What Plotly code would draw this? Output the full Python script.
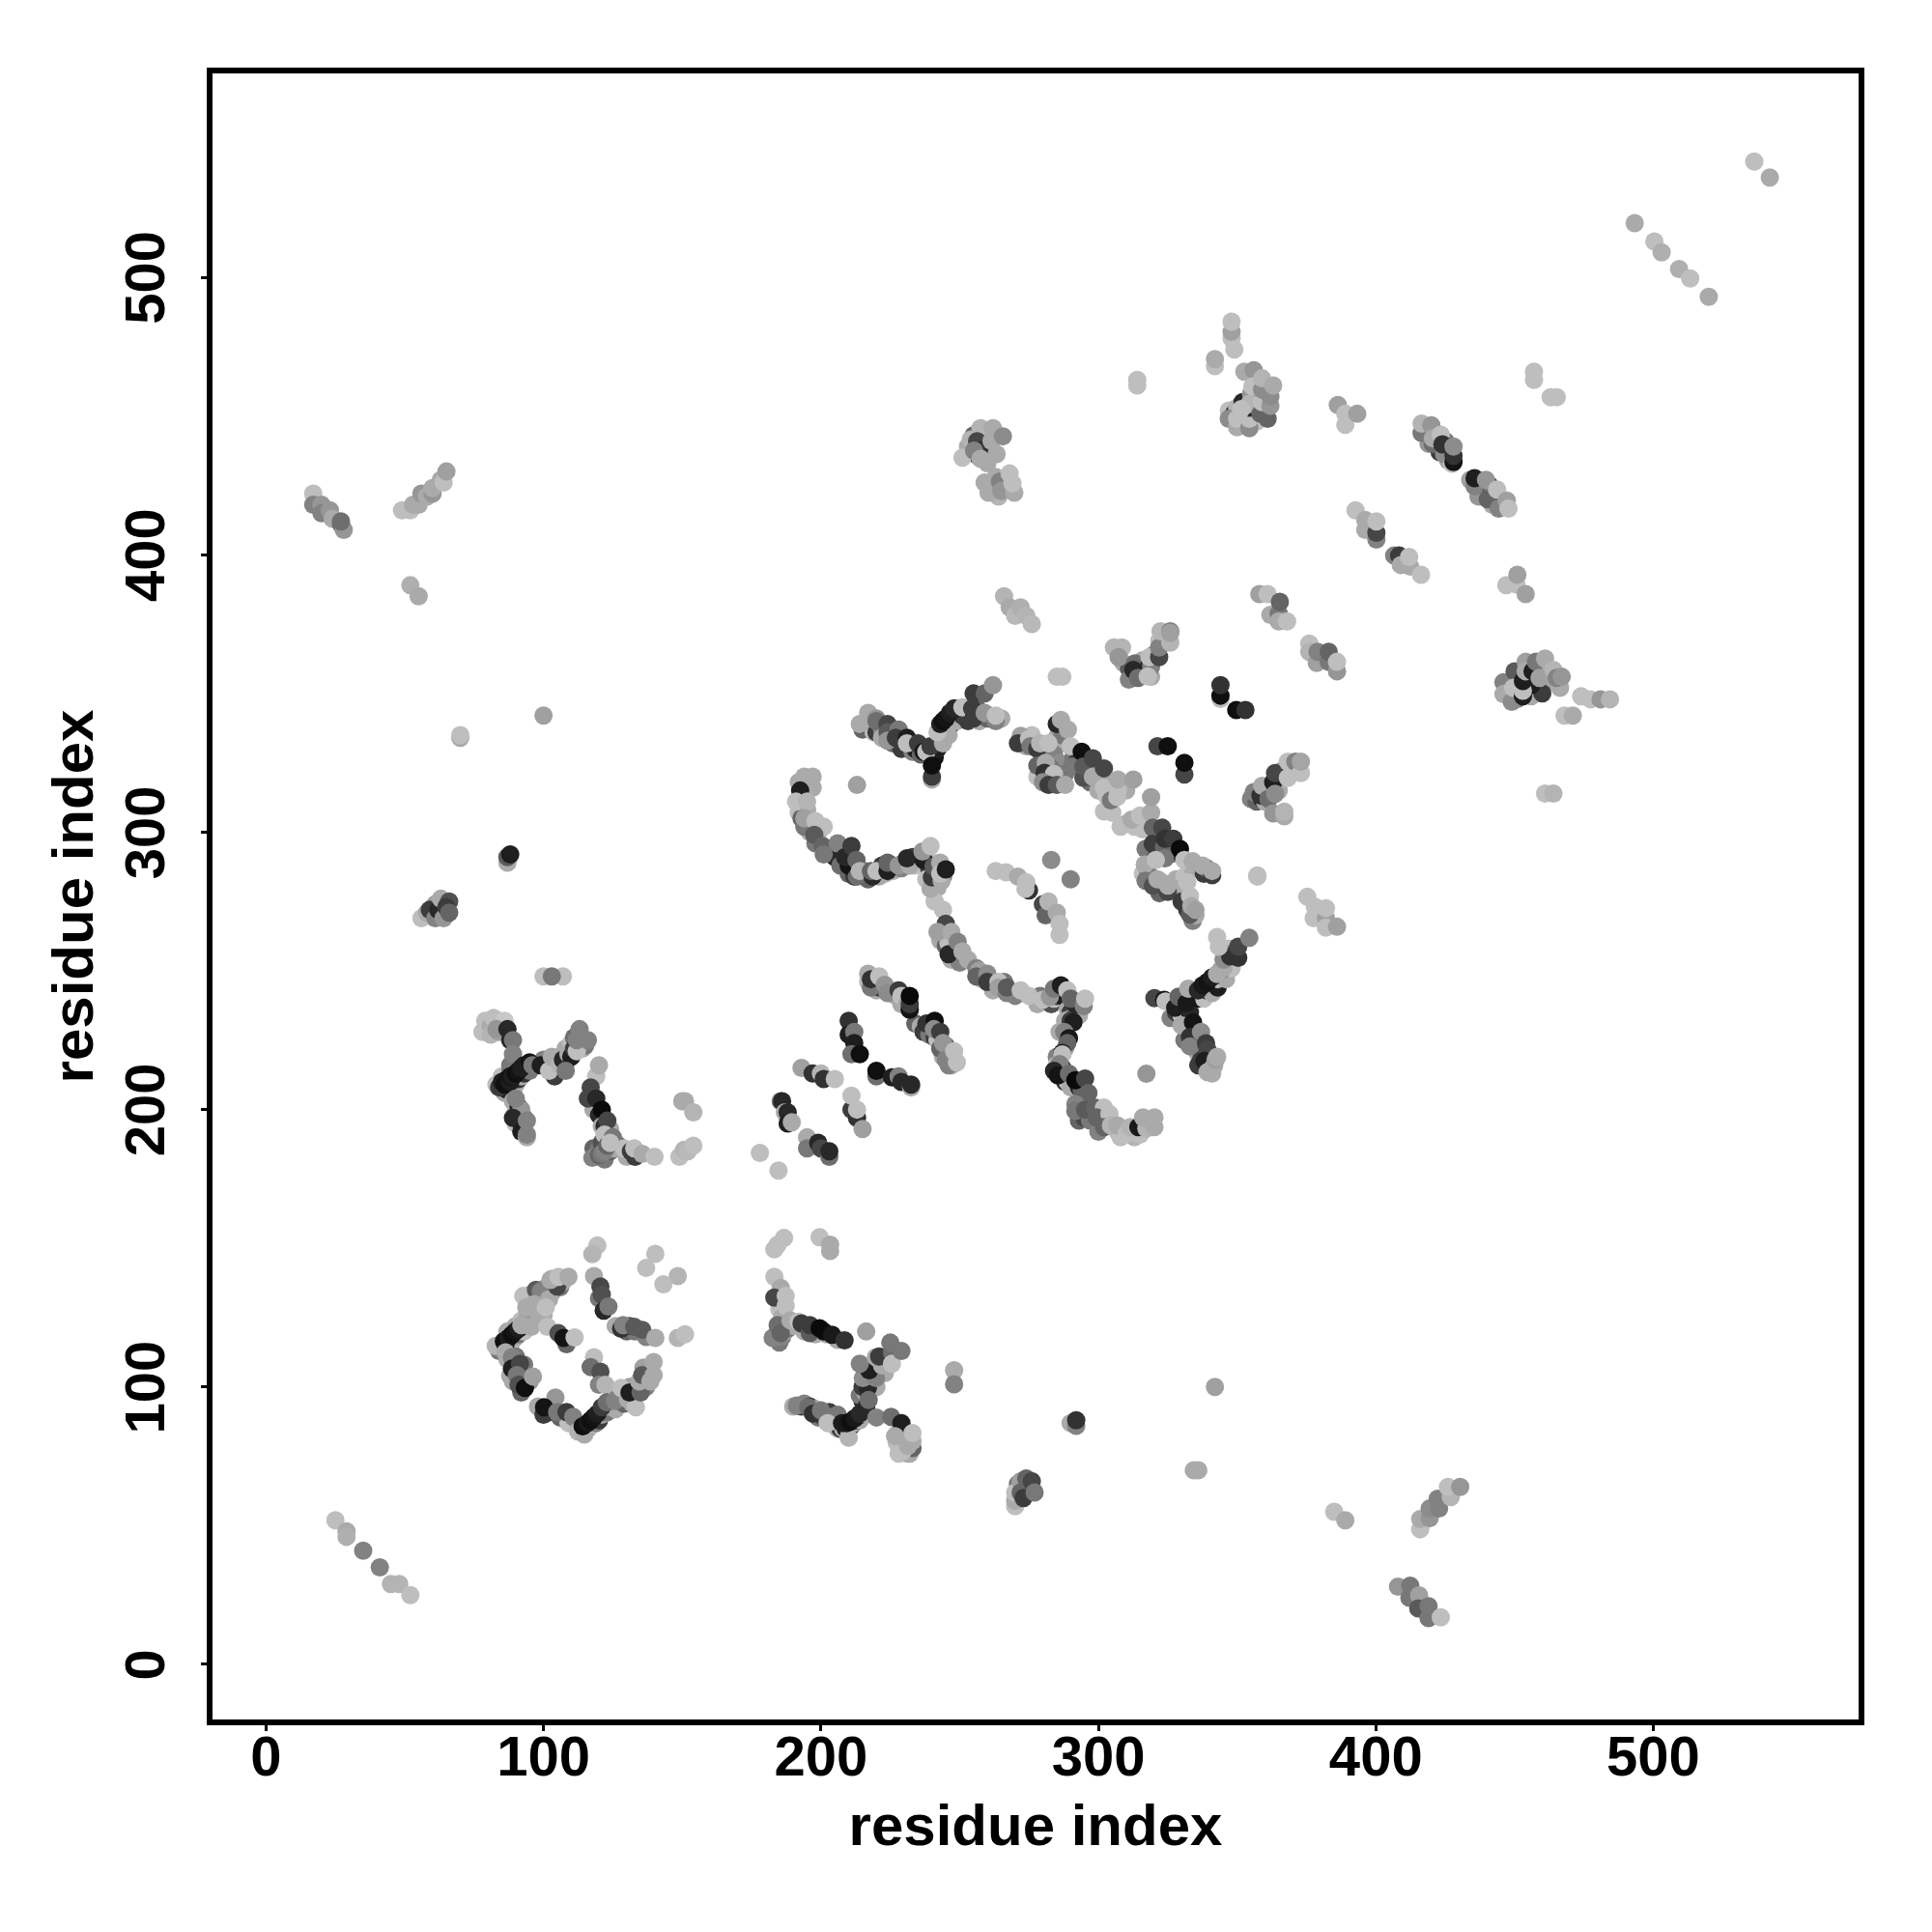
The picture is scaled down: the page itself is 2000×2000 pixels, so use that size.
import plotly.graph_objects as go

# Every point: (residue index i, residue index j, shade score 0=black .. 255=white)
under_box_left = [(84,113,120),(85,115,190),(86,114,150),(87,115,170),(88,115,150),(89,117,190),(90,118,170),(91,119,120),(93,120,190),(94,122,170),(88,119,190),(87,120,170),(90,122,170),(92,124,190),
                  (94,125,170),(95,127,150),(96,131,170),(98,132,120),(99,130,170),(100,133,150),(101,136,170),(103,134,170),(103,137,130),(106,136,120),(107,138,170),(100,126,170),(103,139,190),(95,133,150),
                  (87,110,170),(89,108,130),(90,111,120),(88,104,170),(92,104,100),(89,102,170),(92,98,100),(95,102,150),(93,108,120),
                  (112,87,170),(113,85,100),(114,84,190),(115,84,60),(116,85,120),(117,86,190),(119,87,130),(120,88,60),(121,90,160),(123,91,120),(124,93,190),(126,92,170),(127,97,130),(129,94,100),(131,100,160),(132,94,170),(135,100,170),(136,107,160),(137,100,130),(102,91,70),(106,89,100),(109,87,190),(98,93,170),(100,90,60),
                  (126,122,170),(130,120,100),(133,120,120),(137,118,130),(131,122,70)]
under_box_right = [(206,85,180),(207,85,60),(208,85,170),(209,85,30),(210,85,190),(211,86,60),(212,87,170),(213,88,30),(214,88,170),(215,90,30),(216,90,170),(215,95,40),(214,97,120),(216,98,170),(215,100,60),(218,100,70),(220,100,170),(218,104,40),(221,105,120),(219,108,60),(223,105,170),(223,110,130),
                   (190,93,170),(193,93,60),(194,94,130),(196,93,60),(198,92,170),(199,89,120),(201,89,60),(203,91,60),(205,88,170),(206,90,120),
                   (184,119,110),(185,116,120),(186,118,130),(187,120,170),(188,121,120),(186,122,160),(190,122,170),(194,120,170),(198,119,170),(202,119,170),(201,120,15),(206,117,170),(185,128,190),(186,125,170),
                   (228,84,190),(229,82,100),(230,79,170),(231,76,190),(228,76,190),(232,76,170),(233,78,100)]
under_upper_left = [(85,212,190),(86,206,170),(87,207,40),(88,214,130),(89,208,100),(90,209,170),(91,211,50),(92,212,170),(93,213,50),(95,214,120),(89,203,170),(90,199,170),(91,201,40),(90,195,190),(92,195,60),(93,197,100),(88,216,120),
                    (100,218,130),(102,216,60),(104,217,170),(105,214,50),(106,219,120),(107,215,170),(108,217,40),(108,222,170),(110,224,190),(111,226,110),(113,224,60),(114,222,170),(115,223,120),(113,226,170),
                    (119,212,190),(118,200,170),(120,198,40),(121,194,170),(122,194,40),(124,193,170),(118,186,100),(120,186,120),(122,182,120),(124,185,100),(126,188,190),(127,187,100),(125,186,170),(121,188,80),(130,183,170),(133,183,60),
                    (60,270,120),(61,274,160),(63,273,190),(63,270,100),(65,271,170)]
under_center_low = [(217,246,190),(219,245,60),(220,243,170),(221,244,60),(225,242,130),(227,241,170),(229,238,170),(234,231,100),(236,230,170),(237,228,60),(239,227,120),(241,226,60),(242,225,190),(245,223,100),(247,216,170),(246,216,130),(244,219,170),
                    (243,261,170),(245,259,100),(246,260,190),(247,254,170),(249,256,40),(250,253,130),(253,254,170),(256,251,130),(258,247,170),(262,243,170),(266,246,120),(270,241,130),(278,238,170),(279,241,120),(283,238,80),(284,240,190),(285,241,60),(287,241,30),(289,236,170),(290,235,60),(293,234,170),(290,233,120),
                    (288,232,170),(290,232,60),(286,228,170),(288,222,170),(285,219,130),(285,216,190),(287,215,60),(286,213,190),(288,210,60),(289,210,190),(290,208,170),(293,208,40),(294,207,100),(293,196,100),(295,197,70),(297,196,120),(301,196,100),(300,192,130),(307,192,180),(308,190,190),(313,190,180),(315,191,190),(318,194,170),
                    (326,233,130),(328,235,60),(329,236,15),(330,234,190),(332,241,60),(333,235,40),(334,240,170),(336,240,20),(338,240,190),(339,243,30),(341,242,170),(343,244,30),(343,247,190),(345,249,60),(346,247,170),(348,251,190),(344,250,130),(347,258,190),(346,256,120),
                    (331,225,120),(333,230,60),(335,227,170),(336,224,60),(336,220,170),(337,218,60),(336,216,60),(340,216,60),(341,213,170)]
under_center_high = [(215,337,100),(216,339,40),(218,339,130),(219,336,190),(220,336,60),(222,337,130),(222,334,170),(226,332,100),(229,330,60),(233,329,130),(234,330,30),(236,328,100),(240,327,150),(241,327,20),(242,330,30),(243,333,15),(244,335,20),(245,337,15),(246,338,20),(247,339,30),(248,341,20),(246,335,170),(249,340,170),(251,342,60),(252,343,100),(253,340,60),(256,345,100),(257,340,170),(260,341,100),(265,341,170),(250,343,60),
                     (192,318,170),(193,311,170),(192,307,190),(195,308,170),(193,305,100),(196,300,170),(199,300,170),(198,296,120),(203,294,180),(202,293,130),(205,291,40),(207,288,110),(210,285,100),(212,284,60),(215,284,190),(216,286,130),(217,283,100),(221,284,170),(222,288,60),(223,285,170),(226,288,60),(226,286,170),(229,287,130),(230,289,40),(234,288,190),(233,291,60),(235,290,170),(238,292,190),(239,287,60),(241,285,170),(240,281,70),(238,283,190),(242,280,170),(244,284,120),
                     (274,331,170),(276,335,190),(280,329,190),(283,329,190),(285,334,170),(287,332,170),(284,328,130),(286,325,140),(283,323,120),(278,320,190),(288,321,120),(287,335,120),(291,327,120),(292,325,60),(296,325,150),(295,321,60),(297,318,110),(299,323,130),(300,319,100),(300,315,170),(304,318,170),(304,310,170),(305,307,190),(303,313,190),(310,315,170),
                     (310,303,170),(313,302,190),(316,301,190),(317,304,190),(317,294,120),(321,298,60),(322,297,30),(321,293,90),(325,295,100),(326,292,120),(328,293,40),(316,285,190),(318,285,120),(322,278,100),(323,282,190),(328,283,170),(331,278,60),(331,284,190),(332,272,60),(334,268,130),(335,270,170),(330,280,170),(334,287,170),(338,285,60),(339,287,120)]
under_upper_right = [(347,452,190),(349,451,40),(350,453,180),(352,448,190),(352,455,40),(353,451,60),(356,452,150),(356,456,40),(357,448,190),(355,458,150),(357,451,30),(360,452,170),(361,449,100),(361,461,150),
                     (447,352,100),(448,349,60),(450,350,170),(451,353,40),(451,348,120),(452,356,170),(455,352,20),(455,355,170),(456,349,170),(458,352,150),(458,358,170),(461,358,170),(462,354,160),(452,358,90),(460,350,60),(456,353,30),
                     (418,445,100),(419,440,150),(422,441,170),(423,437,60),(425,441,120),(426,434,170),(437,424,60),(438,425,170),(437,421,150),(441,425,60),(442,422,130),(442,418,170),(444,420,100),
                     (253,439,170),(255,443,100),(256,436,60),(259,443,170),(259,436,100),(260,433,170),(263,428,170),(262,423,130),(267,425,120),(264,421,180),(259,426,170),(268,424,170),
                     (309,361,170),(311,359,90),(312,356,80),(316,358,140),(316,357,30),(316,362,170),(319,356,170),(320,364,120),(322,369,190),(311,355,130),
                     (355,312,130),(357,311,100),(359,312,40),(360,314,160),(360,311,170),(362,316,50),(365,315,170),(366,322,150),
                     (271,60,130),(271,65,120),(274,63,100),(270,57,190)]

corner_bottom_left = [(25,52,190),(29,48,170),(29,46,175),(35,41,130),(41,35,130),(45,29,180),(48,29,180),(52,25,190)]
corner_top_left_a = [(17,422,190),(17,418,130),(20,418,150),(20,415,130),(23,416,150),(24,413,170),(27,411,110),(28,409,150),(27,412,110)]
corner_top_left_b = [(49,416,190),(52,416,190),(53,418,170),(55,418,170),(56,422,150),(58,421,170),(60,422,150),(60,424,170),(63,427,170),(64,426,190),(65,430,160)]
strays_left = [(52,389,175),(55,385,170),(70,334,170),(70,335,190),(100,342,160),(87,289,170),(87,291,90),(88,292,30),
               (100,248,190),(107,248,190),(103,248,120)]
cluster_60_270 = [(56,269,190),(58,271,170),(59,272,60),(61,269,130),(62,272,40),(63,276,170),(64,269,150),(66,275,80),(65,273,60),(66,271,100)]
cluster_85_210 = [(78,228,190),(79,232,190),(81,230,170),(82,233,190),(81,227,180),(84,232,190),(84,228,160),(86,232,200),(83,229,150),
                  (87,229,40),(88,225,40),(89,225,120),(89,220,130),
                  (83,209,190),(84,208,60),(85,210,30),(86,209,15),(87,211,20),(88,210,30),(88,212,20),(89,212,30),(90,213,15),(91,214,20),(92,215,30),(93,216,30),(95,217,20),(96,216,120),
                  (92,200,150),(89,197,40),(90,204,130),(92,192,30),(94,196,130),(94,190,170),(94,191,130),
                  (99,216,30),(104,212,60),(102,214,190),(103,219,170),(106,216,180),(107,218,40),(109,220,170),(110,219,30),(111,222,60),(112,221,190),(112,225,130),(108,214,120),(113,229,130),(116,225,130)]
cluster_120_190 = [(120,216,170),(117,208,70),(116,204,70),(119,204,40),(121,200,10),(123,196,70),(122,191,190),(125,190,120),
                   (117.6,182.6,130),(119,183,130),(120,183.5,100),(121,184,120),(122,185,130),(123,187,100),(124,188,190),
                   (129,186,190),(131.5,185,60),(132.7,186,190),(135.6,184,170),(140,183,190),
                   (150,203,170),(151,203,170),(154,199,180),(149,183,190),(150.7,185.5,180),(152,185,185),(154,187,190)]
helix_180_232 = [(178,184.4,190),(184.7,178,190),(185.5,203,120),(186,203,40),(187,199,170),(188,199,40),(188,195,30),(189.5,195.4,170),
                 (195,190,170),(195,186,120),(199,188,40),(200,186,70),(203,183,110),(203,185,40),
                 (193,215,160),(197,213,50),(200,213,180),(201,211,50),(205,211,190),
                 (210,232,50),(210,227,30),(212,228,120),(212,224,30),(211,220,110),(214,220,15),
                 (211,200,60),(211,205,190),(213,197,50),(213,200,190),(215,193,160),
                 (220,212,110),(220,214,15),(225.6,211.6,30),(228,212,130),(229,210,40),(232.5,208,170),(232.5,209,40)]
helix_218_250 = [(217,249,170),(218,244,120),(218,247,50),(221,248,190),(223,245,150),(224,242,140),(228,243,60),(229,241,190),(231,238,170),(232,236,20),(232,238,60),(232,241,10),
                 (238,231,50),(241,232,15),(240.7,229,140),(243,228,60),(243,222,100),(244,224,150),(245,218,130),(248,221,190),(249,217,190)]
strand_240_290 = [(241,275,190),(244,272,190),(245,267,70),(242,264,160),(246,256,40),(247,264,170),(249.3,260.5,130),(251,257,170),
                  (257,250,160),(256,248,100),(260,249,140),(260,246,60),(264,246,190),(264,244,160),(267,242,130),(267,244,90),(272,243,190),(275,241,190),
                  (280,239.6,190),(282.5,240.7,150),(284,243.6,120),(286.5,244.8,30),(291.8,237.8,40),(288.8,243,190),(290,240,100),(294.7,237.3,130),(295.2,240,190)]
strand_290_320 = [(291,231.5,30),(287.7,228,130),(289.4,225.7,25),(288.8,224,100),(287,220.4,25),(287,219.9,190),(286,216.4,130),(284,214,40),(285.4,212.3,20),(289.4,212.9,110),(291.7,210.6,10),(295.2,211.2,70),(296.4,206,100),
                  (291.7,202,130),(291.7,199.5,120),(295.2,200,90),(298.7,200.7,100),(302,200.7,190),(299.3,197.2,100),(304,198.4,190),(302,193.7,100),(304.5,194.3,180),(306.8,194.3,170),(310.3,191.4,190),(311.5,193.7,180),(314.4,193.7,25),(317.3,193.2,180),(316.1,197.2,170),(320.2,193.7,170),(320.2,197.2,170),(317.3,212.9,150)]
y_shape_330_240 = [(320.2,240.2,70),(323.7,239.6,25),(324.2,239,190),(327.7,236.7,30),(328.9,240.7,100),(331.8,238.4,25),(332.4,243.6,170),(335.9,243,40),(337.6,244.8,25),(339.3,246,20),(341,247.7,30),(342.8,248.9,170),(345.1,251.2,170),(345.1,254,140),(347.5,255.2,50),(350.4,254.7,50),(350.4,258.7,70),(342.8,262.2,190),(343.4,258.7,190),(354.4,261.9,130),
                   (330,230.3,170),(334.1,231.5,20),(333,226.2,50),(337,228,140),(333,222.8,130),(338.8,223.9,60),(339.3,221.6,70),(338.2,217.5,30),(339.3,213.5,170),(341.7,215.8,170),(342.2,218,160),(342.8,219,170)]
strand_215_262 = [(214,339,170),(217,343,170),(220,341,150),(220,340,110),(224,339,70),(224,336,90),(224,333,150),(228,337,120),(227,334,60),(231,334,30),(231,332,190),(235,332,60),(237,329,20),(238,329,190),(240,319,170),(240,320,60),(240,324,15),(239.5,331,60),
                  (244,332,170),(242,336,190),(243,339,30),(244,340,15),(245,341,20),(246.5,343,30),(248,344.6,40),(251,345,190),(255,350,60),(259,350,100),(262,353,150),(254.5,344.6,60),(255,341,60),(259,343,150),(263,340,130),(263,342,190)]
strand_190_245 = [(194,320,170),(197,320,170),(197,316,170),(192.5,315,30),(191,311,190),(195,311,180),(194,302,120),(194,305,160),(198,304,190),(201,302,190),(197.6,299,90),(200.6,295,100),(201,292,120),(206,296,130),(210,288,20),(208.7,291,40),(211,295,60),(212.8,290,100),(213,284,110),(214,286,180),(218.6,284,40),(218,286,100),(220,286,190),(224,286,30),(224,289,100),(228,288,150),(232,288,170),(231,290.6,40),
                  (213,317,160),(239.5,279.6,170),(240,283.7,60),(243.5,282.5,170),(237,290,30),(236.6,293,150),(239.5,295,190),(240.6,287.7,90),(243,289,170),(243,285,190),(245,286.6,30)]
strand_263_290 = [(263,286,190),(266.7,285.5,190),(271,284,170),(275,279,50),(274,282,190),(273.7,279.6,190),(280,274,70),(281,270,100),(282,275,180),(285,271,170),(286,267,190),(286,263,190),(283,290,140),(290,283,130)]
cluster_275_325 = [(272,334.7,160),(271,332,60),(275,333.6,190),(275.5,331,120),(278,330,60),(279,332,180),(282,332,190),(285,339,40),(286.5,340.5,170),(289,337,170),(290,331,190),(278,324,100),(281,325,170),(280.6,321.4,50),(284,321,190),(280,318,140),(282,317,60),(285,317,90),(288,317,170),
                   (290.5,323.7,120),(294,329,15),(294.6,319.6,80),(294.6,323.7,90),(298,326.6,70),(298,320,170),(302,323,70),(302,307.5,190),(302,316,190),(304.5,311.5,120),(306.8,312.7,190),(307,315,190),(307,319,170),(312.6,319,160)]
cluster_310_340 = [(308,302,190),(312,304.5,170),(315,306,190),(319,307,170),(319,312.6,160),(319.6,301.6,100),(319.6,295.8,60),(323,301.6,70),(323.6,294.7,100),(324,290.6,120),(324,297.6,50),(327,297.6,60),(329.4,294,10),
                   (331,290,190),(334,289.5,170),(337.5,288,170),(341,284.5,60),(341,286,170),
                   (316.7,288.3,170),(317,282.5,120),(319.6,280.7,80),(320.7,290,190),(321.3,283,170),(325,278.5,70),(325,280.7,170),(330,275,60),(332,282,190),(333,277,190),(333,270.3,90),(333.5,273.3,170),(335,272,160)]
strays_center = [(344,348,190),(344,349.2,15),(344,353,50),(349.7,344,15),(353,344,50),(321.3,331,70),(325,331,15),(331,320.8,70),(331,325,15)]
cluster_360_320 = [(356,314.4,130),(358.4,313.2,50),(359,316.7,170),(361.3,312,110),(363,318,30),(363.7,321.3,70),(363.7,313.8,140),(368.3,319.6,190),(368.3,325.4,190),(371,325.4,130),(373,321.3,190),(373,325.4,165),(363,306.8,150),(367,305.7,170),(367,307.4,180),(357.3,284.4,190),(357.3,284,190)]
diag_375_386 = [(375.3,276.7,190),(377.6,269,190),(378,273.2,190),(382,269,160),(382,265.6,190),(382,272.6,190),(386,265.9,160)]
diag_358_386 = [(358,385.8,160),(361,385.8,190),(362,378.3,170),(365,378.8,120),(365,376,170),(365.4,383,100),(368,376,190),
                (376,368,190),(376,365,180),(378.7,361,160),(379,365,130),(383,361.4,120),(383,365,100),(386,358,150),(386,361.4,190)]
cluster_450_355 = [(446,354,130),(446,349.8,170),(449,347,140),(450,358,90),(449.5,352,190),(453,349,30),(453,351,190),(453,354.5,30),(454,361.4,160),(454,358,170),(456.5,358,30),(457.7,361.4,120),(459,355.6,160),(461,362.6,170),(464,358.5,180),(466.4,352,170),(465.2,355.6,130),(467,356,150),
                   (474,349,190),(477.4,347.9,190),(481,347.9,150),(484.4,347.9,180),(468,342,190),(471,342,170),(461,313.9,190),(464,313.9,180),
                   (447,389,190),(450.7,389.3,190),(451,392.8,160),(454,385.8,160)]
cluster_350_460 = [(348,478,190),(348,480.4,160),(348,484,190),(349,474,190),(342,468,190),(342,470.5,170),
                   (352.6,466,170),(356,466.5,150),(347,449,140),(350,446,170),(350,449,190),(354.4,445.6,140),(354.4,449,190),(354.4,453,40),(354.4,454.3,180),(351.5,452.5,190),(358.4,450.8,100),(359,455,190),(355.5,460.7,190),(359,459.5,140),(359,463.6,180),(362,453.7,150),(362,457,140),(363,461,170),
                   (386.3,454,160),(389,446.8,190),(389,450.8,190),(393.3,450.8,160),(457,463,190),(457,466,190),(463,456.8,190),(465.2,456.8,190),(314,461,190),(314,463,190)]
helix_416_448 = [(416.5,443.9,120),(416.5,447.3,180),(420,446.7,150),(420.5,440,110),(420.5,442,170),(423.4,443.3,190),(424.6,436.3,140),(424,439.8,50),(427.5,432.8,190),(428,433.4,20),(428,435.7,50),(428,439,140),
                 (434,427,160),(435.6,424.7,130),(435.6,427.6,30),(439.7,427,150),(440.3,420,100),(443.7,423.5,190),(444.3,416.6,130),(447.2,419.5,160),(447.8,416.6,190)]
helix_393_416 = [(392.7,416,190),(396.2,409,170),(396.2,412.5,170),(400.2,405.5,130),(400.2,407.9,70),(400.2,412,190),
                 (406.6,399.7,130),(408.4,399.7,60),(409,396.3,170),(412.4,395.7,170),(412,399.2,190),(416.3,392.8,190)]
corner_top_right = [(493.3,519.5,170),(500.4,512.9,190),(503,509,175),(509.3,503,175),(513.3,499.6,190),(520,493,170),(536.4,541.7,190),(542,536,170)]
cluster_258_440 = [(251,435,190),(254,441.5,180),(257.5,445.6,180),(262,445.6,170),(256.3,440.9,70),(258.6,438,50),(255.2,437.5,130),(257.5,434.6,170),(261.5,441,170),(263.3,436.3,170),(265.6,442.7,140),
                   (261.5,425.8,170),(260.4,422.4,170),(264.5,426.4,130),(265,423,150),(268,429.3,190),(269.7,422.4,170),(269,425.8,190)]
cluster_265_380 = [(266,385,180),(268,381,170),(270,378,185),(272,381,175),(274,378,180),(276,375,185),(285,356,190),(287,356,190)]
cluster_315_365 = [(305.6,366.6,180),(308.5,366.6,180),(307.3,363.1,150),(313.2,360.8,110),(312.6,358.5,40),(314.3,355.6,110),(318.4,360.2,30),(319,359.6,130),(317.8,356.1,190),(318.4,363.1,190),(321.9,363.1,70),(321.9,366.6,130),(322.4,372.4,180),(325.9,368.3,180),(325.9,372.4,130),(325.9,371.8,160)]
corner_bottom_right = [(416,48.7,190),(416,52.4,170),(419.4,52.7,150),(419.4,56.2,140),(422.8,56.2,130),(422.3,59.7,130),(427,60.3,180),(426,64,190),(430.4,64,150),
                       (408,28,150),(412.1,24,120),(412.4,28.4,120),(415.6,24.9,160),(415.3,20.2,90),(419,16.7,120),(419,21,120),(423.4,17,190),(385,55,190),(389,52,170)]
strays_lower = [(334.4,70,170),(336,70,170),(342,100,160),(248,106,170),(248,101,130),(290,87,170),(292,86,130),(292,88,50),
                (270,59,170),(270,62,190),(272,66,160),(272,62,100),(273,60,60),(274,67,100),(276,66,70),(277,62,120)]
box_left = [(119.4,151,190),(117.6,147.9,180),(140.3,148,190),(137,142.9,190),(148.4,140,180),(143.2,137,190),
            (92.7,132.8,190),(93.8,128.7,170),(97.3,135,90),(99,134.5,130),(96.7,129.9,170),(97.9,127,170),(102,131.6,170),(100.8,128.7,190),(104.9,136.2,70),(102.5,138.6,170),(105.4,139.7,190),(109,139.7,170),
            (118.2,140,170),(120,132,120),(120.5,136.2,70),(121,133.3,80),(121.7,127.5,40),(123.4,129,120),
            (128,121,50),(128.7,122.3,130),(132.7,121.7,90),(135.6,120.6,90),(140.3,117.7,170),(148.4,117.7,180),(151,119,190),
            (82.8,114.8,180),(85.7,116.5,20),(86.3,115.4,15),(87.4,117.7,30),(88.6,118.8,15),(89.8,120,20),(91,121,30),(92,122.3,170),(95.6,121.7,170),
            (101.4,121.7,190),(105.4,119.4,80),(108.3,115.4,100),(107.2,117.7,20),(111.2,117.9,190),
            (86.3,112.5,170),(88.6,110.7,130),(88.6,106.6,30),(91.5,108.4,70),(90.4,104.3,120),(91,100.8,80),(93.3,99.7,15),(96.2,103.8,160),
            (118.2,110.7,190),(117,107.2,110),(120.5,105.5,80),(120,100.8,130),(122.3,100.8,180),
            (104.3,96.2,150),(100.2,92.7,20),(104.9,91,120),(108.3,91,60),(110.7,89.2,130),(112.4,84,180),(114.7,82.9,170),
            (114.1,85.8,15),(115.9,87,25),(117,88,15),(118.2,89.2,20),(119.4,90.4,30),(121,92.7,60),(122.8,94.5,110),(125.8,95,130),
            (128,99.7,190),(130.4,95.6,170),(133.3,92.7,190),(131,98,30),(135,98,100),(134.5,102,170),(135.6,104.3,90),(138.5,102,170),(139.7,104.3,170),(139.7,109,170)]
box_right = [(183.2,149.6,190),(184.4,151.3,190),(186.7,153.7,190),(199.5,154,190),(203.3,149,170),(203.3,151.3,170),
             (183.2,139.7,190),(185.5,135.7,170),(183.2,132.2,70),(187.3,132.8,190),(187.3,129.3,190),
             (182.6,117.7,130),(184.4,122.3,110),(185.5,119.4,100),(189,124,170),(191.9,123.5,190),(193,122.9,60),(196,119.4,90),(196,122.3,60),(199.5,121.2,10),(204,118.8,25),(208.5,116.8,50),(216.3,120,160),
             (191.3,93.3,130),(195.4,92.7,110),(197.1,90.4,50),(200,91.6,120),(204,89.2,120),(202.4,87,190),(210,81.7,180),
             (207.6,87,30),(209.3,87,25),(210.5,87.5,15),(212.2,88.7,25),(214,90.4,40),(216.3,92.7,40),(216.9,99.7,40),(217.2,95.3,110),(215.1,103.2,140),(219.8,103.2,130),(217.4,106,30),(214,108.4,130),(219.8,110.7,170),(222,107.8,170),(221,111,60),(225.6,112.5,110),(225.6,108.4,190),(225,116,120),(229,113,120),
             (220,89,130),(225.3,89.2,110),(229,87,30),
             (227.3,80,190),(229.6,77,190),(226.7,82.3,170),(231.4,78.8,170),(233,80.5,170),(233,83.4,190)]

regions = [under_box_left, under_box_right, under_upper_left, under_center_low, under_center_high, under_upper_right,
           corner_bottom_left, corner_top_left_a, corner_top_left_b, strays_left, cluster_60_270, cluster_85_210, cluster_120_190,
           helix_180_232, helix_218_250, strand_240_290, strand_290_320, y_shape_330_240, strand_215_262, strand_190_245, strand_263_290,
           cluster_275_325, cluster_310_340, strays_center, cluster_360_320, diag_375_386, diag_358_386, cluster_450_355, cluster_350_460,
           helix_416_448, helix_393_416, corner_top_right, cluster_258_440, cluster_265_380, cluster_315_365, corner_bottom_right, strays_lower, box_left, box_right]

tick_values = [0, 100, 200, 300, 400, 500]
axis_title = "residue index"

fig = go.Figure()
for pts in regions:
    fig.add_trace(go.Scatter(
        x=[p[0] for p in pts], y=[p[1] for p in pts], mode="markers", showlegend=False,
        marker=dict(size=19, color=[p[2] for p in pts], cmin=0, cmax=255,
                    colorscale=[[0, "rgb(0,0,0)"], [1, "rgb(255,255,255)"]], line=dict(width=0), opacity=1),
    ))

font = dict(family="Liberation Sans", size=58, color="black", weight="bold")
title_font = dict(family="Liberation Sans", size=60, color="black", weight="bold")
common = dict(tickmode="array", tickvals=tick_values, ticks="outside", ticklen=6, tickwidth=3, tickcolor="black",
              showline=True, mirror=True, linewidth=6, linecolor="black", showgrid=False, zeroline=False, tickfont=font)
fig.update_xaxes(range=[-19.3, 574], ticklabelstandoff=-24, title=dict(text=axis_title, font=title_font, standoff=21), **common)
fig.update_yaxes(range=[-19.85, 573.5], tickangle=-90, ticklabelstandoff=15, ticklabelshift=9, title=dict(text=axis_title, font=title_font, standoff=3), **common)
fig.update_layout(width=2000, height=2000, paper_bgcolor="white", plot_bgcolor="white",
                  margin=dict(l=212, r=84, t=68, b=228, autoexpand=False))
fig.write_html("out.html")
